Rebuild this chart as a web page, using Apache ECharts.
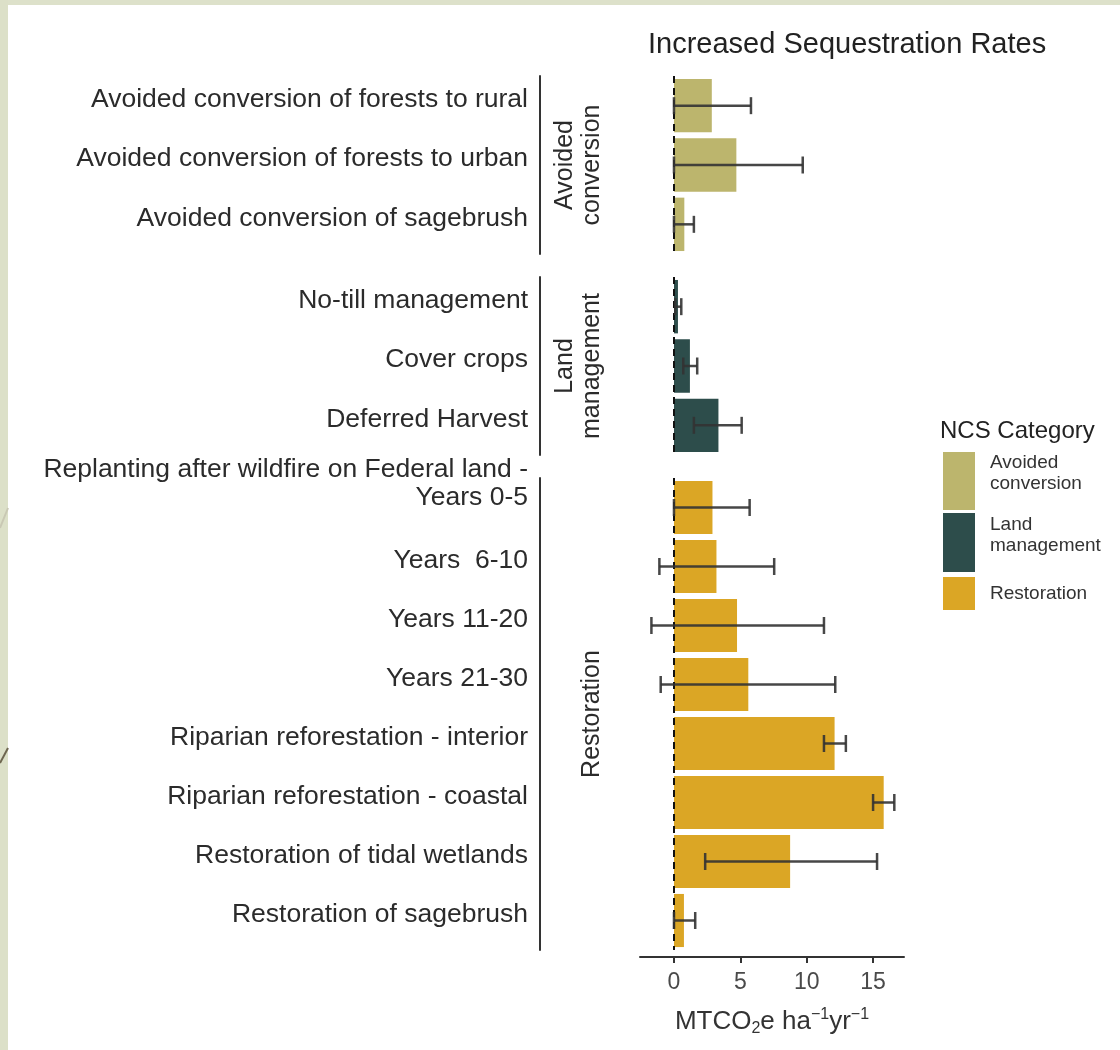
<!DOCTYPE html>
<html>
<head>
<meta charset="utf-8">
<script src="https://cdn.jsdelivr.net/npm/echarts@6/dist/echarts.min.js"></script>
<style>
  html, body { margin: 0; padding: 0; background: #fff; }
  #chart { width: 1120px; height: 1050px; }
</style>
</head>
<body>
<div id="chart"></div>
<script>
const groups = ["Avoided conversion", "Land management", "Restoration"];
const groupColors = ["#bcb56d", "#2d4d4b", "#dba625"];

const avoidedLabels = [
  "Avoided conversion of forests to rural",
  "Avoided conversion of forests to urban",
  "Avoided conversion of sagebrush",
];
const avoidedValues = [2.85, 4.7, 0.78];
const avoidedLow = [0, 0, 0];
const avoidedHigh = [5.8, 9.7, 1.5];

const landLabels = ["No-till management", "Cover crops", "Deferred Harvest"];
const landValues = [0.3, 1.2, 3.35];
const landLow = [0.1, 0.7, 1.5];
const landHigh = [0.55, 1.75, 5.1];

const restLabels = [
  "Replanting after wildfire on Federal land -\nYears 0-5",
  "Years  6-10",
  "Years 11-20",
  "Years 21-30",
  "Riparian reforestation - interior",
  "Riparian reforestation - coastal",
  "Restoration of tidal wetlands",
  "Restoration of sagebrush",
];
const restValues = [2.9, 3.2, 4.75, 5.6, 12.1, 15.8, 8.75, 0.75];
const restLow = [0, -1.1, -1.7, -1.0, 11.3, 15.0, 2.35, 0];
const restHigh = [5.7, 7.55, 11.3, 12.15, 12.95, 16.6, 15.3, 1.6];

const tickValues = [0, 5, 10, 15];

const FONT = "Liberation Sans, Arial, sans-serif";
const chart = echarts.init(document.getElementById("chart"));

const panels = [
  { labels: avoidedLabels, values: avoidedValues, low: avoidedLow, high: avoidedHigh, top: 76, height: 178 },
  { labels: landLabels, values: landValues, low: landLow, high: landHigh, top: 277, height: 178 },
  { labels: restLabels, values: restValues, low: restLow, high: restHigh, top: 478, height: 472 },
];

const grid = panels.map((p) => ({ left: 640, right: 216, top: p.top, height: p.height }));

// labels sit a little above the bar centre, as in the original plot;
// an empty trailing line pushes the text up
const yLabelFormatter = (value) => {
  const lines = value.split("\n");
  const body = lines.map((l) => "{a|" + l + "}").join("\n");
  return body + (lines.length > 1 ? "\n{big| }" : "\n{small| }");
};

const yAxis = panels.map((p, i) => ({
  type: "category",
  gridIndex: i,
  inverse: true,
  offset: 100,
  data: p.labels,
  axisLine: { show: true, onZero: false, lineStyle: { color: "#333", width: 2 } },
  axisTick: { show: false },
  axisLabel: {
    interval: 0,
    hideOverlap: false,
    margin: 12,
    formatter: yLabelFormatter,
    rich: {
      a: { fontSize: 26.5, lineHeight: 28, color: "#2b2b2b", fontFamily: FONT },
      small: { fontSize: 4, lineHeight: 12 },
      big: { fontSize: 4, lineHeight: 48 },
    },
  },
  name: groups[i].replace(" ", "\n"),
  nameLocation: "middle",
  nameRotate: 90,
  nameGap: -66,
  nameMoveOverlap: false,
  nameTextStyle: { fontSize: 25, lineHeight: 27, color: "#2b2b2b", fontFamily: FONT },
}));

const xAxis = panels.map((p, i) => {
  const bottom = i === panels.length - 1;
  return {
    type: "value",
    gridIndex: i,
    min: -2.56,
    max: 17.33,
    offset: bottom ? 7 : 0,
    splitLine: { show: false },
    axisLine: { show: bottom, onZero: false, lineStyle: { color: "#333", width: 2 } },
    axisTick: {
      show: bottom,
      customValues: tickValues,
      length: 6,
      lineStyle: { color: "#333", width: 2 },
    },
    axisLabel: {
      show: bottom,
      customValues: tickValues,
      margin: 14,
      fontSize: 23,
      color: "#4a4a4a",
      fontFamily: FONT,
    },
    name: bottom ? "{a|MTCO}{s|2}{a|e ha}{p|−1}{a|yr}{p|−1}" : "",
    nameLocation: "middle",
    nameGap: 50,
    nameMoveOverlap: false,
    nameTextStyle: {
      rich: {
        a: { fontSize: 26, lineHeight: 30, color: "#333", fontFamily: FONT },
        s: { fontSize: 16, lineHeight: 18, verticalAlign: "bottom", color: "#333", fontFamily: FONT },
        p: { fontSize: 16, lineHeight: 15, verticalAlign: "top", color: "#333", fontFamily: FONT },
      },
    },
  };
});

const series = [];
panels.forEach((p, i) => {
  series.push({
    name: groups[i],
    type: "bar",
    xAxisIndex: i,
    yAxisIndex: i,
    barWidth: "90%",
    data: p.values,
    itemStyle: { color: groupColors[i] },
    markLine: {
      silent: true,
      symbol: "none",
      label: { show: false },
      lineStyle: { color: "#111", width: 2, type: [7, 5] },
      data: [{ xAxis: 0 }],
    },
  });
  series.push({
    type: "custom",
    xAxisIndex: i,
    yAxisIndex: i,
    silent: true,
    z: 5,
    data: p.values.map((v, k) => [p.low[k], p.high[k], k]),
    encode: { x: [0, 1], y: 2 },
    renderItem: (params, api) => {
      const a = api.coord([api.value(0), api.value(2)]);
      const b = api.coord([api.value(1), api.value(2)]);
      const cap = 8.5;
      const style = { stroke: "#333", lineWidth: 2.5, opacity: 0.9 };
      return {
        type: "group",
        children: [
          { type: "line", shape: { x1: a[0], y1: a[1], x2: b[0], y2: b[1] }, style },
          { type: "line", shape: { x1: a[0], y1: a[1] - cap, x2: a[0], y2: a[1] + cap }, style },
          { type: "line", shape: { x1: b[0], y1: b[1] - cap, x2: b[0], y2: b[1] + cap }, style },
        ],
      };
    },
  });
});

// one legend per category so the keys can have different heights
const legendTops = [452, 513, 577];
const legendHeights = [58, 59, 33];
const legend = groups.map((g, i) => ({
  data: [g],
  left: 943,
  top: legendTops[i],
  padding: 0,
  orient: "vertical",
  selectedMode: false,
  icon: "rect",
  itemWidth: 32,
  itemHeight: legendHeights[i],
  formatter: (name) => {
    const parts = name.split(" ");
    if (parts.length === 1) return "{a|" + name + "}";
    return parts.map((s) => "{a|" + s + "}").join("\n") + "\n{b| }";
  },
  textStyle: {
    padding: [0, 0, 0, 10],
    rich: {
      a: { fontSize: 19, lineHeight: 21, color: "#333", fontFamily: FONT },
      b: { fontSize: 4, lineHeight: 15 },
    },
  },
}));

const option = {
  backgroundColor: "#ffffff",
  animation: false,
  title: [
    {
      text: "Increased Sequestration Rates",
      left: 643,
      top: 25,
      textStyle: { fontSize: 29, fontWeight: "normal", color: "#222", fontFamily: FONT },
    },
    {
      text: "NCS Category",
      left: 935,
      top: 414,
      textStyle: { fontSize: 24, fontWeight: "normal", color: "#222", fontFamily: FONT },
    },
  ],
  graphic: [
    { type: "rect", shape: { x: 0, y: 0, width: 1120, height: 5 }, style: { fill: "#dde1ca" }, silent: true },
    { type: "rect", shape: { x: 0, y: 0, width: 8, height: 1050 }, style: { fill: "#dce0c8" }, silent: true },
    { type: "line", shape: { x1: 0, y1: 763, x2: 8, y2: 748 }, style: { stroke: "#6e6650", lineWidth: 2 }, silent: true },
    { type: "line", shape: { x1: 0, y1: 528, x2: 8, y2: 508 }, style: { stroke: "#c9c8b4", lineWidth: 2 }, silent: true },
  ],
  legend,
  grid,
  xAxis,
  yAxis,
  series,
};

chart.setOption(option);
window.addEventListener("resize", () => chart.resize());
</script>
</body>
</html>
